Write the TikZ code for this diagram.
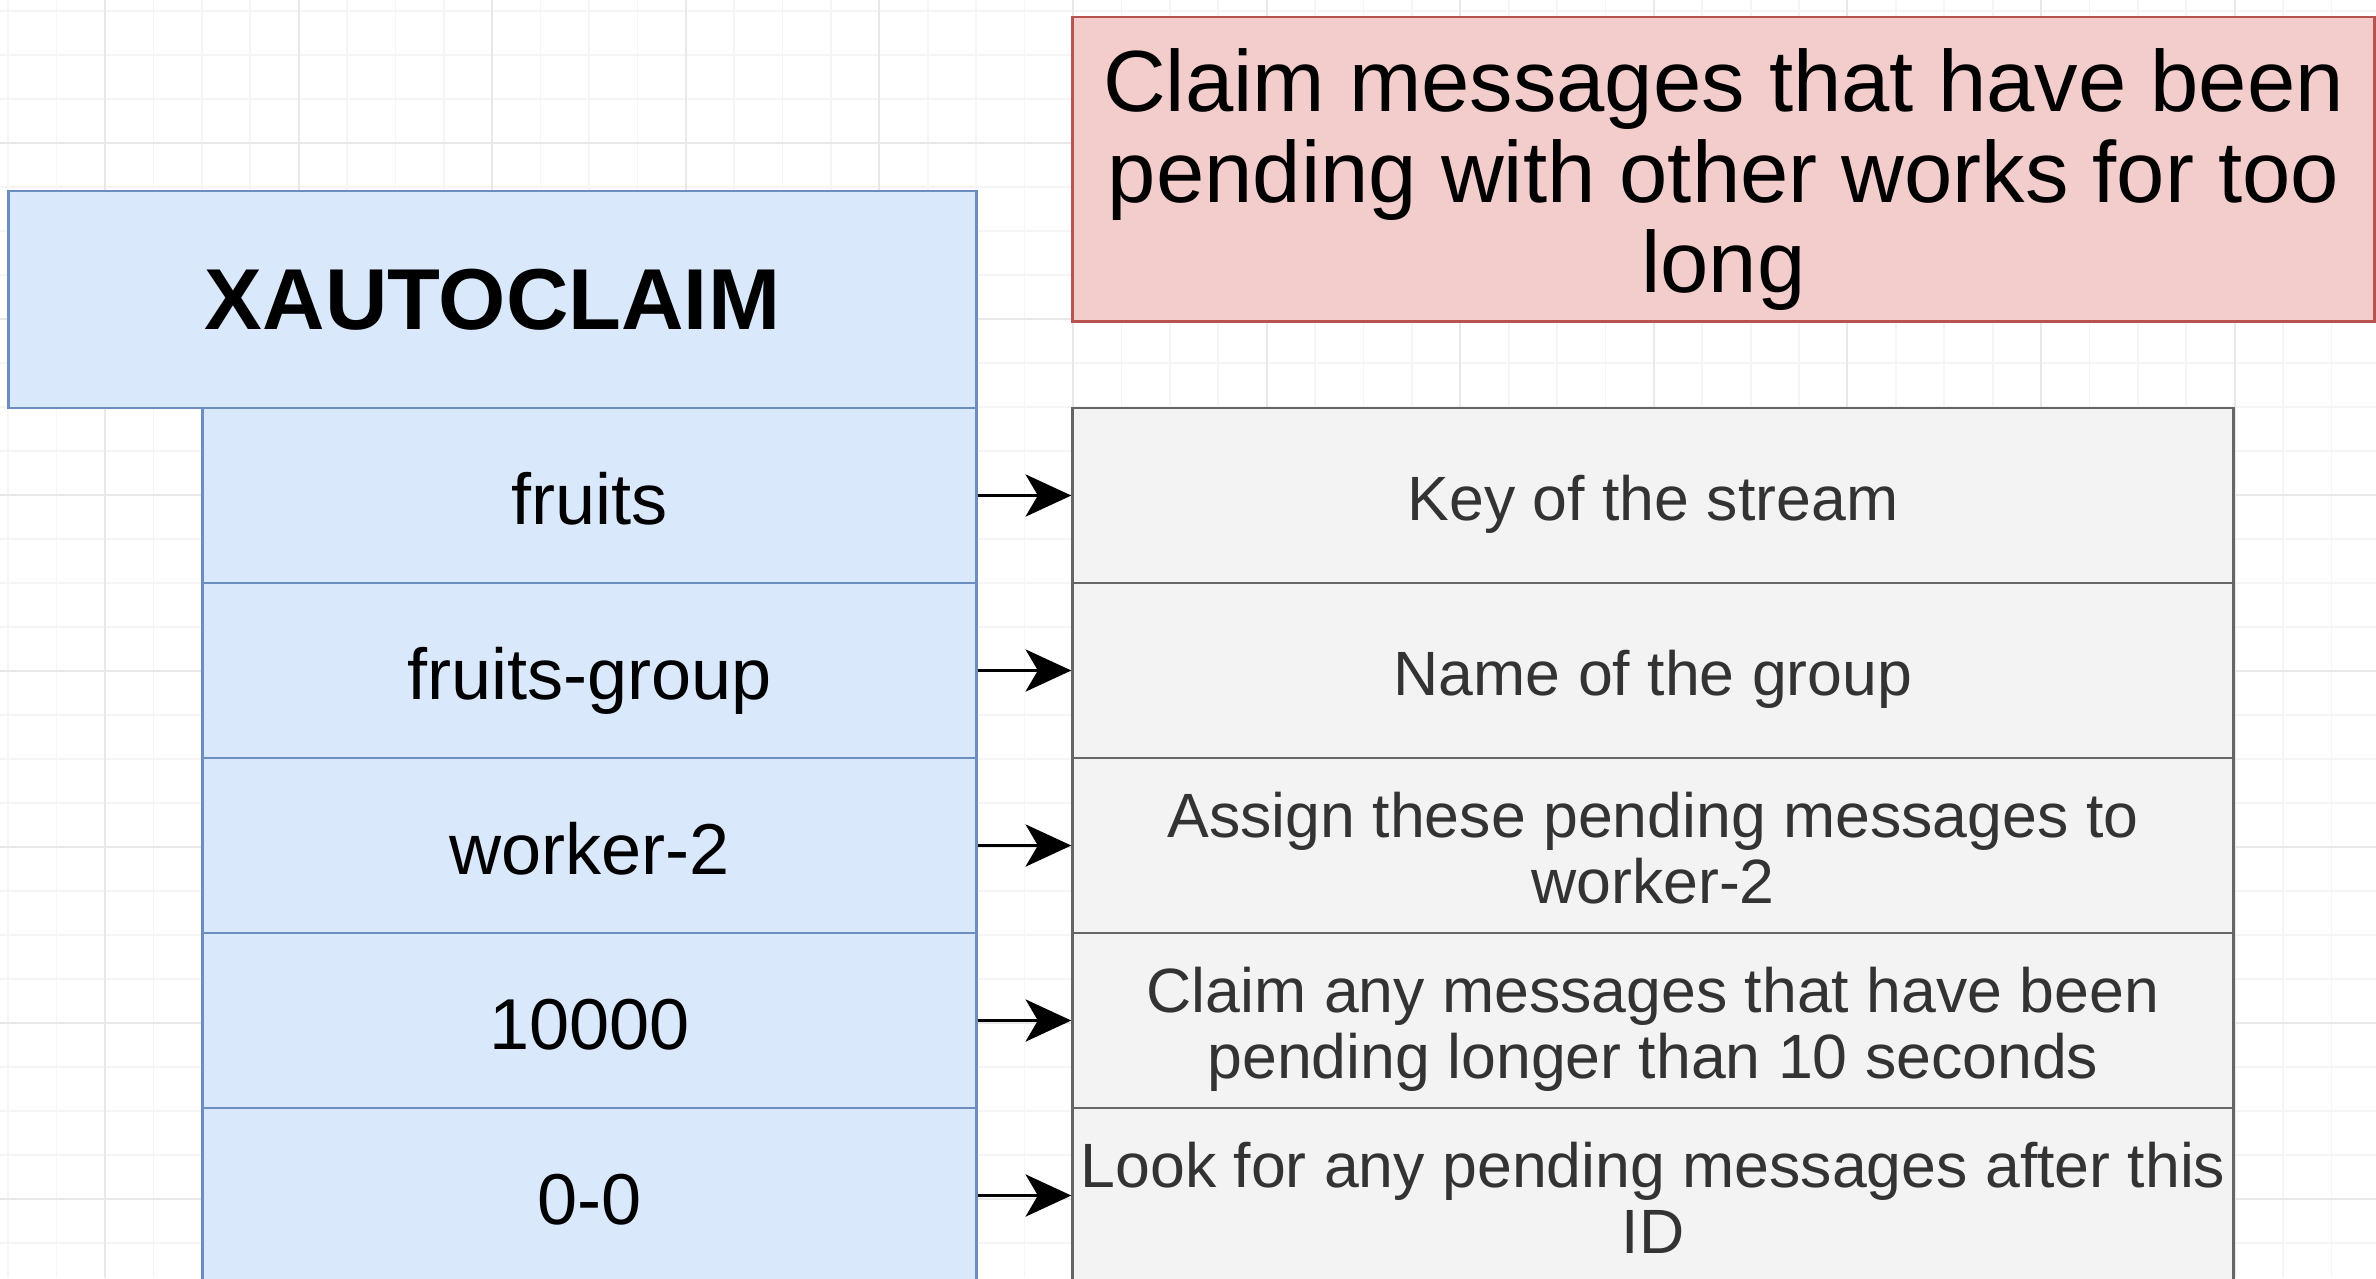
\documentclass[tikz,border=0pt]{standalone}
\usepackage{fontspec}
\setmainfont{Liberation Sans}
\usetikzlibrary{arrows.meta}
\definecolor{cmdfill}{HTML}{DAE8FC}
\definecolor{cmdline}{HTML}{6C8EBF}
\definecolor{descfill}{HTML}{F3F3F3}
\definecolor{descline}{HTML}{666666}
\definecolor{notefill}{HTML}{F2CDCC}
\definecolor{noteline}{HTML}{B85450}
\definecolor{desctext}{HTML}{333333}
\newcommand{\dtop}{\rule{0pt}{18.5pt}}
\newcommand{\dbot}{\rule[-4.4pt]{0pt}{4.4pt}}
\newcommand{\ntop}{\rule{0pt}{24.4pt}}
\newcommand{\nbot}{\rule[-5.5pt]{0pt}{5.5pt}}
\tikzset{
	minorgrid/.style={line width=0.5pt,black!4},
	majorgrid/.style={line width=0.6pt,black!9},
	cmdbox/.style={draw=cmdline,fill=cmdfill,line width=0.8pt,inner sep=0pt,minimum width=9.67cm,minimum height=2.17cm,font=\fontsize{24.6}{28}\selectfont\bfseries},
	argbox/.style={draw=cmdline,fill=cmdfill,line width=0.8pt,inner sep=0pt,minimum width=7.73cm,minimum height=1.75cm,text height=21.2pt,text depth=4.8pt,font=\fontsize{20.5}{23}\selectfont},
	descbox/.style={draw=descline,fill=descfill,line width=0.8pt,inner sep=0pt,minimum width=11.6cm,minimum height=1.75cm,align=center,text=desctext,font=\fontsize{17.8}{18.8}\selectfont},
	notebox/.style={draw=noteline,fill=notefill,line width=0.8pt,inner sep=0pt,minimum width=13.01cm,minimum height=3.04cm,align=center,font=\fontsize{24.7}{25.8}\selectfont},
	argarrow/.style={-{Stealth[length=13pt,width=12pt,inset=3.5pt]},line width=0.85pt,black}
}
\begin{document}
\begin{tikzpicture}[x=0.01cm,y=-0.01cm]
	\useasboundingbox (0,0) rectangle (2376,1278);
	\fill[white] (0,0) rectangle (2376,1278);
	\foreach \k in {0,...,48} \draw[minorgrid] ({8.2+\k*48.4},0) -- ({8.2+\k*48.4},1278);
	\foreach \k in {0,...,28} \draw[minorgrid] (0,{11+\k*44}) -- (2376,{11+\k*44});
	\foreach \k in {0,...,11} \draw[majorgrid] ({105+\k*193.6},0) -- ({105+\k*193.6},1278);
	\foreach \k in {0,...,6} \draw[majorgrid] (0,{143+\k*176}) -- (2376,{143+\k*176});
	
	\node[notebox] (note) at (1723.5,169) {\ntop Claim messages that have been\\pending with other works for too\\long\nbot};
	\node[cmdbox] (cmd) at (492.5,299.5) {XAUTOCLAIM};
	
	\node[argbox] (arg1) at (589.5,495.5) {fruits};
	\node[argbox] (arg2) at (589.5,670.5) {fruits-group};
	\node[argbox] (arg3) at (589.5,845.5) {worker-2};
	\node[argbox] (arg4) at (589.5,1020.5) {10000};
	\node[argbox] (arg5) at (589.5,1195.5) {0-0};
	
	\node[descbox] (desc1) at (1653,495.5) {\dtop Key of the stream\dbot};
	\node[descbox] (desc2) at (1653,670.5) {\dtop Name of the group\dbot};
	\node[descbox] (desc3) at (1653,845.5) {\dtop Assign these pending messages to\\worker-2\dbot};
	\node[descbox] (desc4) at (1653,1020.5) {\dtop Claim any messages that have been\\pending longer than 10 seconds\dbot};
	\node[descbox] (desc5) at (1653,1195.5) {\dtop Look for any pending messages after this\\ID\dbot};
	
	\foreach \i in {1,...,5} \draw[argarrow] (arg\i) -- (desc\i);
\end{tikzpicture}
\end{document}
